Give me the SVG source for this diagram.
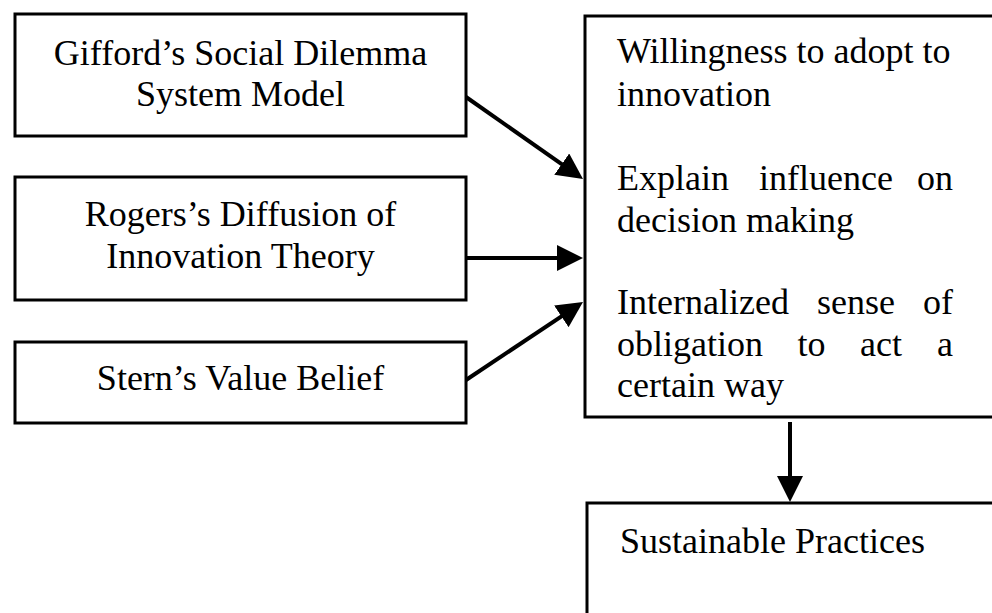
<svg xmlns="http://www.w3.org/2000/svg" width="992" height="613" viewBox="0 0 992 613">
<style>
.box{fill:#fff;stroke:#000;stroke-width:3}
.t{font-family:"Liberation Serif","Times New Roman",serif;font-size:36px;fill:#000}
.c{text-anchor:middle}
.e{text-anchor:end}
.conn{stroke:#000;stroke-width:4;fill:none;marker-end:url(#ah)}
</style>
<defs>
<marker id="ah" markerUnits="userSpaceOnUse" markerWidth="26" markerHeight="26" refX="20" refY="13" orient="auto">
<path d="M0,0 L26,13 L0,26 Z" fill="#000"/>
</marker>
</defs>
<rect width="992" height="613" fill="#fff"/>
<g id="gifford">
<rect class="box" x="15" y="14" width="451" height="122"/>
<text class="t c" x="240.5" y="65">Gifford’s Social Dilemma</text>
<text class="t c" x="240.5" y="106">System Model</text>
</g>
<g id="rogers">
<rect class="box" x="15" y="177" width="451" height="123"/>
<text class="t c" x="240.5" y="226">Rogers’s Diffusion of</text>
<text class="t c" x="240.5" y="268">Innovation Theory</text>
</g>
<g id="stern">
<rect class="box" x="15" y="342" width="451" height="81"/>
<text class="t c" x="240.5" y="390">Stern’s Value Belief</text>
</g>
<g id="outcomes">
<rect class="box" x="585" y="16" width="420" height="401"/>
<text class="t" x="617" y="63">Willingness to adopt to</text>
<text class="t" x="617" y="106">innovation</text>
<text class="t" y="190"><tspan x="617">Explain</tspan><tspan x="759">influence</tspan><tspan x="953" class="e" text-anchor="end">on</tspan></text>
<text class="t" x="617" y="232">decision making</text>
<text class="t" y="314"><tspan x="617">Internalized</tspan><tspan x="817">sense</tspan><tspan x="953" text-anchor="end">of</tspan></text>
<text class="t" y="356"><tspan x="617">obligation</tspan><tspan x="797.5">to</tspan><tspan x="860">act</tspan><tspan x="953" text-anchor="end">a</tspan></text>
<text class="t" x="617" y="397">certain way</text>
</g>
<g id="sustainable">
<rect class="box" x="587" y="503" width="420" height="130"/>
<text class="t" x="620" y="553">Sustainable Practices</text>
</g>
<g id="connectors">
<line class="conn" x1="466" y1="97" x2="578.1" y2="175.6"/>
<line class="conn" x1="466" y1="258" x2="577" y2="258"/>
<line class="conn" x1="466" y1="380" x2="578" y2="305.3"/>
<line class="conn" x1="790" y1="422" x2="790" y2="496"/>
</g>
</svg>
